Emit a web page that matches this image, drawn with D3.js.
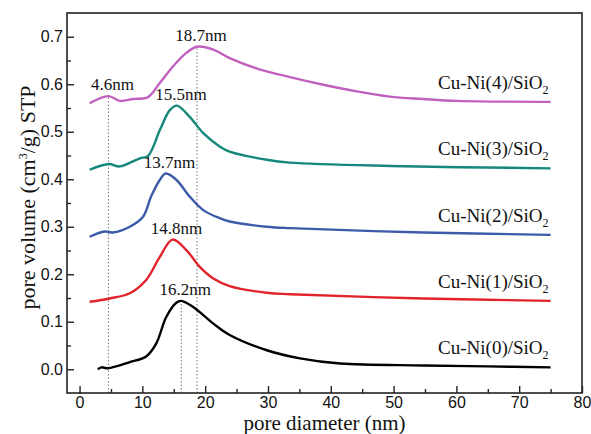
<!DOCTYPE html>
<html>
<head>
<meta charset="utf-8">
<script src="https://cdn.jsdelivr.net/npm/d3@7"></script>
<style>
  body { margin: 0; background: #fff; }
  text { fill: #111; }
</style>
</head>
<body>
<svg id="chart" width="591" height="434"></svg>
<script>
// Sample names (subscript "2" is added when drawing)
const samples = ["Cu-Ni(0)/SiO", "Cu-Ni(1)/SiO", "Cu-Ni(2)/SiO", "Cu-Ni(3)/SiO", "Cu-Ni(4)/SiO"];
const colors = ["#000000", "#e2232b", "#3b5ba9", "#15877b", "#c160be"];

// Pore diameter (nm) and pore volume (cm3/g) for each sample
const diam0 = [2.9, 3.5, 4.5, 8.0, 10.6, 12.2, 13.8, 15.4, 16.2, 18.1, 21.3, 23.9, 29.8, 35.1, 41.5, 54.7, 65, 75];
const vol0  = [0.000, 0.004, 0.002, 0.015, 0.027, 0.054, 0.110, 0.140, 0.144, 0.131, 0.096, 0.072, 0.040, 0.023, 0.012, 0.008, 0.006, 0.004];

const diam1 = [1.6, 4.8, 8.0, 10.6, 12.8, 14.8, 17.0, 19.1, 21.3, 23.9, 29.8, 33.5, 54.7, 75];
const vol1  = [0.142, 0.149, 0.160, 0.188, 0.237, 0.273, 0.251, 0.216, 0.191, 0.175, 0.161, 0.158, 0.149, 0.144];

const diam2 = [1.6, 4.0, 5.3, 8.0, 10.1, 11.4, 12.8, 13.7, 15.4, 17.5, 19.7, 22.3, 23.9, 29.8, 33.5, 54.7, 75];
const vol2  = [0.279, 0.290, 0.288, 0.300, 0.321, 0.364, 0.399, 0.412, 0.399, 0.364, 0.335, 0.318, 0.311, 0.300, 0.297, 0.288, 0.283];

const diam3 = [1.6, 4.7, 6.4, 9.6, 10.9, 12.8, 14.4, 15.5, 17.5, 19.7, 22.3, 23.9, 29.8, 33.5, 49.4, 75];
const vol3  = [0.420, 0.432, 0.427, 0.444, 0.449, 0.504, 0.546, 0.555, 0.532, 0.497, 0.469, 0.458, 0.441, 0.435, 0.428, 0.423];

const diam4 = [1.6, 4.6, 6.4, 8.5, 10.9, 12.8, 14.9, 17.0, 18.7, 21.3, 23.9, 28.5, 33.5, 38.8, 44.1, 49.4, 54.7, 60.1, 75];
const vol4  = [0.560, 0.575, 0.565, 0.569, 0.573, 0.603, 0.638, 0.666, 0.679, 0.673, 0.655, 0.632, 0.615, 0.599, 0.585, 0.574, 0.569, 0.565, 0.563];

const diams = [diam0, diam1, diam2, diam3, diam4];
const vols  = [vol0, vol1, vol2, vol3, vol4];

// Peak annotations: sample index and diameter of the marked maximum
const peakSample = [0, 1, 2, 3, 4, 4];
const peakDiam   = [16.2, 14.8, 13.7, 15.5, 18.7, 4.6];

// Dotted guide lines dropped from selected peaks
const guideSample = [4, 0, 4];
const guideDiam   = [4.6, 16.2, 18.7];

// Axis ticks
const xTicks = [0, 10, 20, 30, 40, 50, 60, 70, 80];
const yTicks = [0.0, 0.1, 0.2, 0.3, 0.4, 0.5, 0.6, 0.7];

const svg = d3.select("#chart");
const plot = { left: 67, top: 13, right: 582, bottom: 393 };

const x = d3.scaleLinear().domain([-2, 80]).range([plot.left, plot.right]);
const y = d3.scaleLinear().domain([-0.05, 0.75]).range([plot.bottom, plot.top]);

const valueAt = (s, d) => vols[s][diams[s].indexOf(d)];

// Dotted guides
svg.append("g").selectAll("line")
  .data(guideDiam)
  .join("line")
  .attr("x1", d => x(d)).attr("x2", d => x(d))
  .attr("y1", y(-0.05))
  .attr("y2", (d, i) => y(valueAt(guideSample[i], d)))
  .attr("stroke", "#777")
  .attr("stroke-width", 1)
  .attr("stroke-dasharray", "1.5,2");

// Curves
const line = d3.line()
  .x(p => x(p[0]))
  .y(p => y(p[1]))
  .curve(d3.curveCatmullRom.alpha(0.5));

svg.append("g").selectAll("path")
  .data(samples.map((s, i) => diams[i].map((d, j) => [d, vols[i][j]])))
  .join("path")
  .attr("d", line)
  .attr("fill", "none")
  .attr("stroke", (d, i) => colors[i])
  .attr("stroke-width", 2.4)
  .attr("stroke-linejoin", "round");

// Frame
svg.append("rect")
  .attr("x", plot.left).attr("y", plot.top)
  .attr("width", plot.right - plot.left)
  .attr("height", plot.bottom - plot.top)
  .attr("fill", "none")
  .attr("stroke", "#222")
  .attr("stroke-width", 1.6);

// Bottom axis (ticks point inward)
const xAxis = svg.append("g").attr("transform", `translate(0,${plot.bottom})`);
xAxis.call(d3.axisBottom(x).tickValues(xTicks).tickSize(-7).tickPadding(4).tickFormat(d3.format("d")));
xAxis.append("g").call(d3.axisBottom(x).tickValues(d3.range(5, 80, 10)).tickSize(-4).tickFormat(""));

// Left axis
const yAxis = svg.append("g").attr("transform", `translate(${plot.left},0)`);
yAxis.call(d3.axisLeft(y).tickValues(yTicks).tickSize(-7).tickPadding(4).tickFormat(d3.format(".1f")));
yAxis.append("g").call(d3.axisLeft(y).tickValues(d3.range(0.05, 0.7, 0.1)).tickSize(-4).tickFormat(""));

svg.selectAll(".domain").remove();
svg.selectAll(".tick line").attr("stroke", "#222").attr("stroke-width", 1.4);
svg.selectAll(".tick text")
  .attr("font-family", "Liberation Sans, Arial, sans-serif")
  .attr("font-size", 16)
  .attr("fill", "#111");

// Axis titles
svg.append("text")
  .attr("x", x(39)).attr("y", 430)
  .attr("text-anchor", "middle")
  .attr("font-family", "Liberation Serif, Times New Roman, serif")
  .attr("font-size", 21)
  .text("pore diameter (nm)");

const yTitle = svg.append("text")
  .attr("transform", `translate(35,${(85 + 310) / 2}) rotate(-90)`)
  .attr("text-anchor", "middle")
  .attr("font-family", "Liberation Serif, Times New Roman, serif")
  .attr("font-size", 22);
yTitle.append("tspan").text("pore volume (cm");
yTitle.append("tspan").attr("font-size", 12).attr("dy", -8).text("3");
yTitle.append("tspan").attr("dy", 8).text("/g) STP");

// Peak labels
svg.append("g").selectAll("text")
  .data(peakDiam)
  .join("text")
  .attr("x", d => x(d) + 4)
  .attr("y", (d, i) => y(valueAt(peakSample[i], d)) - 6)
  .attr("text-anchor", "middle")
  .attr("font-family", "Liberation Serif, Times New Roman, serif")
  .attr("font-size", 17)
  .text(d => d.toFixed(1) + "nm");

// Sample labels at the right end of each curve
const labels = svg.append("g").selectAll("text")
  .data(samples)
  .join("text")
  .attr("x", (d, i) => x(diams[i][diams[i].length - 1]) - 2)
  .attr("y", (d, i) => y(vols[i][vols[i].length - 1]) - 13)
  .attr("text-anchor", "end")
  .attr("font-family", "Liberation Serif, Times New Roman, serif")
  .attr("font-size", 19);
labels.append("tspan").text(d => d);
labels.append("tspan").attr("font-size", 12).attr("dy", 5).text("2");
</script>
</body>
</html>
